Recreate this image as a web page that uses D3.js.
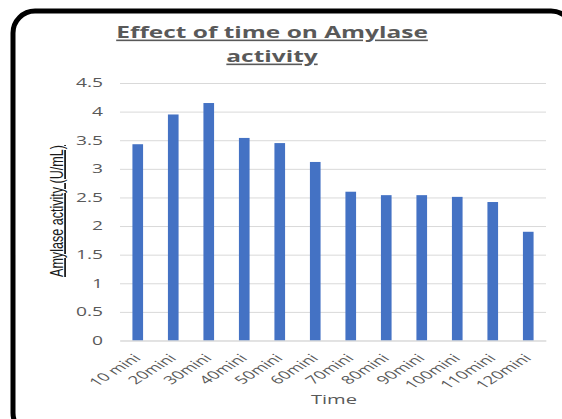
<!DOCTYPE html>
<html><head><meta charset="utf-8">
<script src="https://cdn.jsdelivr.net/npm/d3@7"></script>
<style>body{margin:0;background:#fff;}svg{display:block;}</style>
</head><body>
<script>
const categories = ["10 mini","20mini","30mini","40mini","50mini","60mini","70mini","80mini","90mini","100mini","110mini","120mini"];
const values = [3.43,3.95,4.15,3.54,3.45,3.12,2.6,2.54,2.54,2.51,2.42,1.9];
const yTicks = [0,0.5,1,1.5,2,2.5,3,3.5,4,4.5];
const titleLines = ["Effect of time on Amylase","activity"];
const yTitle = "Amylase activity (U/mL)";
const xTitle = "Time";

const W=562,H=419, SX=1.6;
const svg=d3.select("body").append("svg").attr("width",W).attr("height",H);
svg.append("rect").attr("x",13).attr("y",11).attr("width",560).attr("height",424)
  .attr("rx",22).attr("fill","#fff").attr("stroke","#000").attr("stroke-width",5);

const m={l:120,r:546,t:83,b:340.5};
const x=d3.scaleBand().domain(categories).range([m.l,m.r]).paddingInner(0.7).paddingOuter(0.35);
const y=d3.scaleLinear().domain([0,4.5]).range([m.b,m.t]);

const gy=svg.append("g").attr("transform",`translate(${m.l},0)`)
  .call(d3.axisLeft(y).tickValues(yTicks).tickSize(-(m.r-m.l)).tickFormat(d=>String(d)));
gy.select(".domain").remove();
gy.selectAll(".tick line").attr("stroke","#d9d9d9").attr("stroke-width",1);
gy.selectAll(".tick text").attr("x",0).attr("transform",`translate(-17,0) scale(${SX},1)`)
  .attr("fill","#595959").style("font-family","Open Sans, sans-serif").style("font-size","12px");

svg.selectAll(".bar").data(values).enter().append("rect")
  .attr("x",(d,i)=>x(categories[i])).attr("width",x.bandwidth())
  .attr("y",d=>y(d)).attr("height",d=>y(0)-y(d)).attr("fill","#4472c4");

const gx=svg.append("g").attr("transform",`translate(0,${m.b})`)
  .call(d3.axisBottom(x).tickSize(0));
gx.select(".domain").attr("stroke","#d9d9d9");
gx.selectAll(".tick text").attr("text-anchor","end").attr("dy",0).attr("y",0)
  .attr("transform",`translate(4,18.5) scale(${SX},1) rotate(-45)`)
  .attr("fill","#595959").style("font-family","Open Sans, sans-serif").style("font-size","11.5px");

titleLines.forEach((t,i)=>{
  svg.append("text").attr("transform",`translate(272,${38+i*24}) scale(1.53,1)`).attr("text-anchor","middle")
   .attr("fill","#595959").style("font-family","Open Sans, sans-serif").style("font-weight","bold")
   .style("font-size","16px").style("text-decoration","underline").text(t);
});

svg.append("text").attr("transform",`translate(63,211) scale(${SX},1) rotate(-90)`).attr("text-anchor","middle")
  .attr("fill","#1a1a1a").style("font-family","Liberation Sans, sans-serif")
  .style("font-size","11px").style("text-decoration","underline")
  .attr("textLength",132).attr("lengthAdjust","spacingAndGlyphs").text(yTitle);

svg.append("text").attr("transform",`translate(334,404) scale(1.55,1)`).attr("text-anchor","middle")
  .attr("fill","#595959").style("font-family","Open Sans, sans-serif").style("font-size","13px").text(xTitle);
</script>
</body></html>
